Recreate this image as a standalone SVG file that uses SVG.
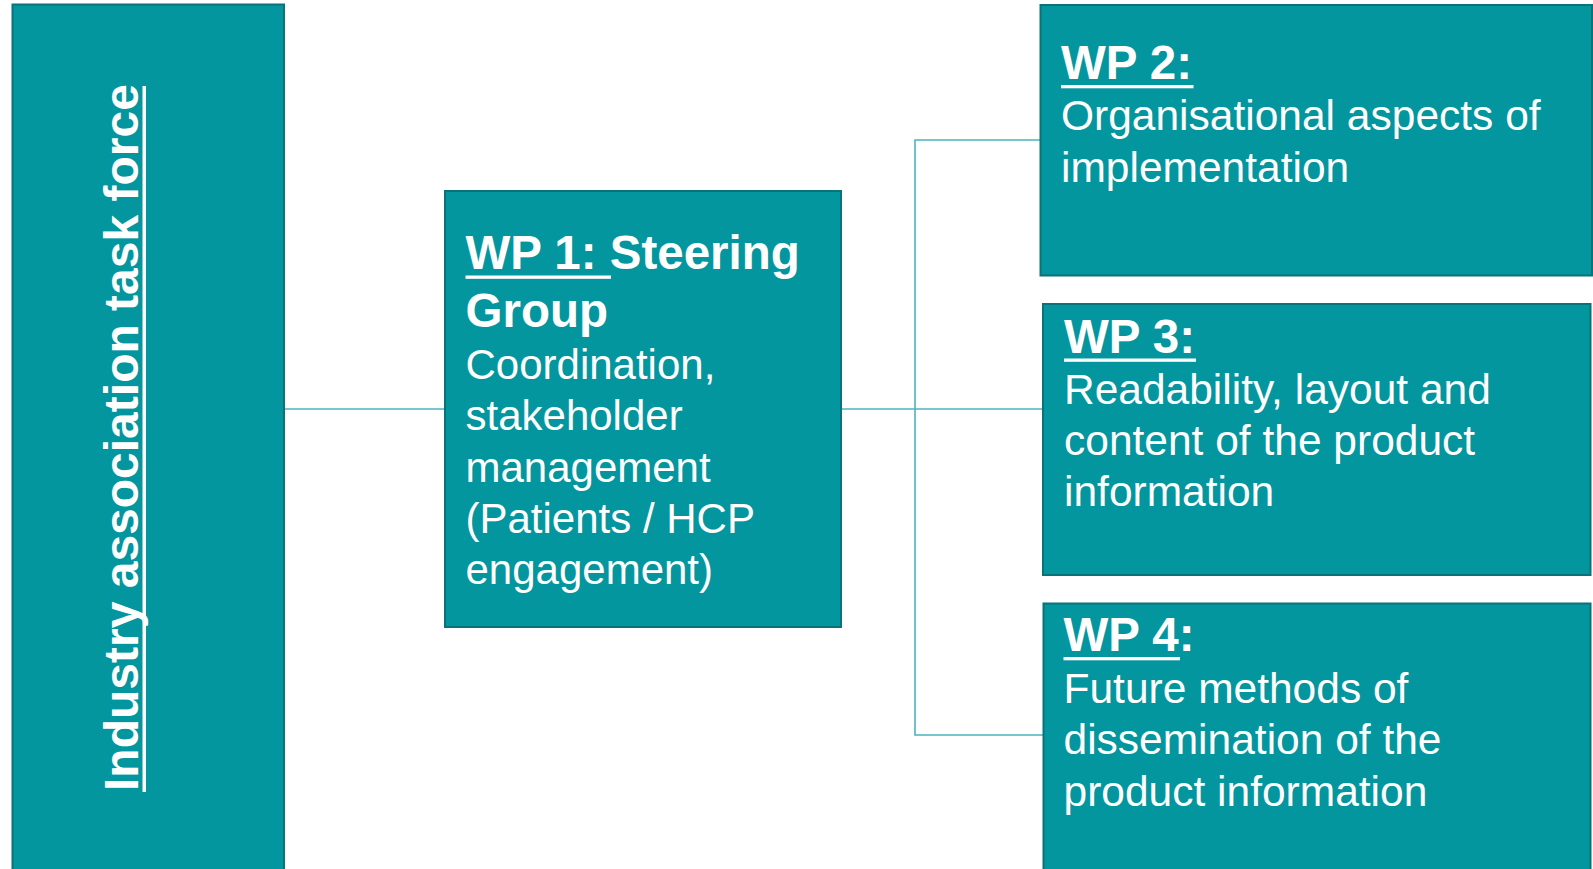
<svg xmlns="http://www.w3.org/2000/svg" width="1593" height="869" viewBox="0 0 1593 869">
  <style>
    .box { fill: #03969F; stroke: #0A737A; stroke-width: 2; }
    .link { fill: none; stroke: #4DB3BE; stroke-width: 1.6; }
    .t { fill: #FFFFFF; font-family: "Liberation Sans", Arial, sans-serif; }
    .head { font-weight: bold; font-size: 47.5px; }
    .body { font-size: 42.5px; }
    .ul { fill: #FFFFFF; }
  </style>
  <rect width="1593" height="869" fill="#FFFFFF"/>

  <!-- connectors -->
  <g id="connectors">
    <line class="link" x1="285" y1="409" x2="445" y2="409"/>
    <line class="link" x1="841" y1="409" x2="1042" y2="409"/>
    <polyline class="link" points="1040,140 915,140 915,735 1043,735"/>
  </g>

  <!-- task force (vertical) -->
  <g id="taskforce">
    <rect class="box" x="12.5" y="4.5" width="271.5" height="880"/>
    <text class="t" font-weight="bold" font-size="48" transform="translate(137.5,791) rotate(-90)">Industry association task force</text>
    <rect class="ul" x="142.5" y="86" width="3.5" height="706"/>
  </g>

  <!-- WP 1 -->
  <g id="wp1">
    <rect class="box" x="445" y="191" width="396" height="436"/>
    <text class="t head" x="465.5" y="269">WP 1: Steering</text>
    <rect class="ul" x="465.5" y="275.5" width="145.5" height="3.3"/>
    <text class="t head" x="465.5" y="326.5">Group</text>
    <text class="t" font-size="42" x="465.5" y="379">Coordination,</text>
    <text class="t" font-size="42" x="465.5" y="430">stakeholder</text>
    <text class="t" font-size="42" x="465.5" y="481.5">management</text>
    <text class="t" font-size="42" x="465.5" y="532.5">(Patients / HCP</text>
    <text class="t" font-size="42" x="465.5" y="583.5">engagement)</text>
  </g>

  <!-- WP 2 -->
  <g id="wp2">
    <rect class="box" x="1040.5" y="5" width="551.5" height="270.5"/>
    <text class="t head" x="1061" y="79">WP 2:</text>
    <rect class="ul" x="1061" y="85" width="132.5" height="3.3"/>
    <text class="t body" x="1061" y="129.5">Organisational aspects of</text>
    <text class="t body" x="1061" y="181.5">implementation</text>
  </g>

  <!-- WP 3 -->
  <g id="wp3">
    <rect class="box" x="1043" y="304" width="547.5" height="271"/>
    <text class="t head" x="1064" y="352.5">WP 3:</text>
    <rect class="ul" x="1064" y="358.5" width="132" height="3.3"/>
    <text class="t body" x="1064" y="404">Readability, layout and</text>
    <text class="t body" x="1064" y="454.5">content of the product</text>
    <text class="t body" x="1064" y="506">information</text>
  </g>

  <!-- WP 4 -->
  <g id="wp4">
    <rect class="box" x="1043.5" y="603.5" width="547" height="290"/>
    <text class="t head" x="1063.5" y="651">WP 4:</text>
    <rect class="ul" x="1063.5" y="657" width="116.5" height="3.3"/>
    <text class="t body" x="1063.5" y="702.5">Future methods of</text>
    <text class="t body" x="1063.5" y="754">dissemination of the</text>
    <text class="t body" x="1063.5" y="805.5">product information</text>
  </g>
</svg>
